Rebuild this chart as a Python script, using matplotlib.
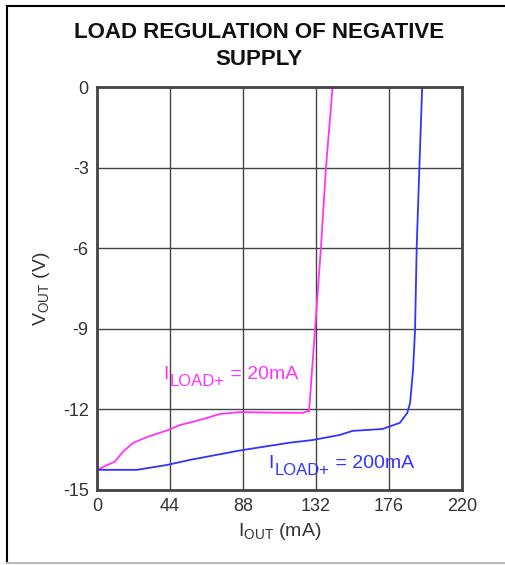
import matplotlib
matplotlib.use("Agg")
import matplotlib.pyplot as plt
from matplotlib.lines import Line2D

plt.rcParams['font.family'] = ['Liberation Sans', 'DejaVu Sans']
plt.rcParams['mathtext.fontset'] = 'custom'
plt.rcParams['mathtext.rm'] = 'Liberation Sans'
plt.rcParams['mathtext.it'] = 'Liberation Sans'
plt.rcParams['axes.unicode_minus'] = False

# I_LOAD+ = 20mA curve (IOUT in mA, VOUT in V)
iout_20 = [0, 10.8, 15.7, 21.7, 30.1, 42.8, 50, 56, 63.9, 74.1, 86.2, 106, 124, 127, 127.8, 131.4, 135, 138, 142]
vout_20 = [-14.25, -13.94, -13.57, -13.25, -13.03, -12.77, -12.58, -12.49, -12.36, -12.17, -12.1, -12.12, -12.13, -12.06, -12.08, -9.04, -5.95, -3.01, 0]

# I_LOAD+ = 200mA curve
iout_200 = [0, 24, 42, 56, 86, 116, 130, 146.5, 154, 172, 182.6, 187, 188.7, 190.5, 191.7, 192.7, 194.3, 196]
vout_200 = [-14.25, -14.25, -14.07, -13.88, -13.53, -13.24, -13.14, -12.95, -12.8, -12.73, -12.5, -12.13, -11.76, -10.53, -9.04, -5.94, -3.01, 0]

xticks = [0, 44, 88, 132, 176, 220]
yticks = [0, -3, -6, -9, -12, -15]

magenta = '#ff33ff'
blue = '#3333ff'


def sub_label(ax, x, y, main, sub, rest, color, size=14, subsize=12):
    # "I" + subscript "LOAD+" + " = ..." built from pieces so the subscript stays big
    t1 = ax.text(x, y, main, color=color, fontsize=size, va='baseline')
    t2 = ax.annotate(sub, xy=(1, 0), xycoords=t1, xytext=(1, -4.5), textcoords='offset points',
                     color=color, fontsize=subsize, va='bottom')
    ax.annotate(rest, xy=(1, 0), xycoords=(t2, t1), xytext=(0, 0), textcoords='offset points',
                color=color, fontsize=size, va='bottom')


fig = plt.figure(figsize=(5.05, 5.65), dpi=100)
ax = fig.add_axes([97/505, 1-490/565, 365/505, 403/565])

ax.plot(iout_20, vout_20, color=magenta, lw=1.3)
ax.plot(iout_200, vout_200, color=blue, lw=1.3)

ax.set_xlim(0, 220)
ax.set_ylim(-15, 0)
ax.set_xticks(xticks)
ax.set_yticks(yticks)
ax.tick_params(length=0, pad=6, labelsize=13, labelcolor='#333333')
ax.grid(True, color='#444444', lw=1)
for s in ax.spines.values():
    s.set_color('#444444')
    s.set_linewidth(2)

ax.set_xlabel(r'I$_{\mathrm{OUT}}$ (mA)', fontsize=14, color='#333333', labelpad=4)
ax.set_ylabel(r'V$_{\mathrm{OUT}}$ (V)', fontsize=14, color='#333333', labelpad=8)

sub_label(ax, 39.8, -10.87, 'I', 'LOAD+', ' = 20mA', magenta)
sub_label(ax, 103.1, -14.18, 'I', 'LOAD+', ' = 200mA', blue)

fig.text(259/505, 1-32/565, 'LOAD REGULATION OF NEGATIVE', ha='center', va='center',
         fontsize=16, fontweight='bold', color='#111111')
fig.text(259/505, 1-60/565, 'SUPPLY', ha='center', va='center',
         fontsize=16, fontweight='bold', color='#111111')

# outer frame
fig.add_artist(Line2D([7/505, 7/505], [1-6/565, 1-563/565], color='black', lw=1.5, transform=fig.transFigure))
fig.add_artist(Line2D([7/505, 1], [1-6/565, 1-6/565], color='black', lw=1.5, transform=fig.transFigure))
fig.add_artist(Line2D([7/505, 1], [1-563/565, 1-563/565], color='#bbbbbb', lw=1.5, transform=fig.transFigure))

fig.savefig('out.png', dpi=100)
